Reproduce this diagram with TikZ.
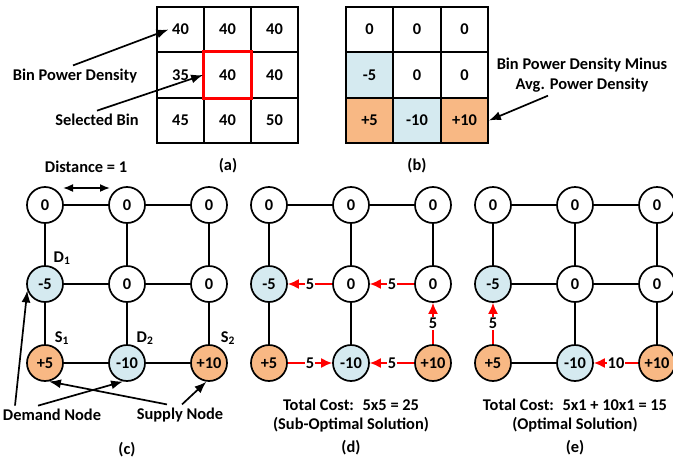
\documentclass[tikz,border=0pt]{standalone}
\usepackage{fontspec}
\setmainfont{Carlito}
\usetikzlibrary{arrows.meta,calc}
\definecolor{demcol}{RGB}{213,234,240}
\definecolor{supcol}{RGB}{248,184,132}
\tikzset{
	cellnode/.style={rectangle, draw=black, line width=1.8pt, minimum width=47pt, minimum height=45.5pt, inner sep=0pt},
	roundnode/.style={circle, draw=black, line width=1.7pt, minimum size=36pt, inner sep=0pt, fill=white},
	demnode/.style={roundnode, fill=demcol},
	supnode/.style={roundnode, fill=supcol},
	edge/.style={line width=1.7pt},
	flow/.style={-{Latex[length=11pt,width=10pt]}, red, line width=1.7pt},
	lbl/.style={fill=white, inner sep=1pt, text=black},
	pointer/.style={-{Latex[length=12pt,width=9pt]}, line width=1.7pt}
}
\begin{document}
\begin{tikzpicture}[x=1pt, y=-1pt, font=\bfseries\fontsize{16.4}{20}\selectfont]
	\useasboundingbox (0,0) rectangle (673,461);
	% (a) bin power density
	\node[cellnode] at (180.5,29.5) (a11) {40};
	\node[cellnode] at (227.5,29.5) (a12) {40};
	\node[cellnode] at (274.5,29.5) (a13) {40};
	\node[cellnode] at (180.5,75) (a21) {35};
	\node[cellnode] at (227.5,75) (a22) {40};
	\node[cellnode] at (274.5,75) (a23) {40};
	\node[cellnode] at (180.5,120.5) (a31) {45};
	\node[cellnode] at (227.5,120.5) (a32) {40};
	\node[cellnode] at (274.5,120.5) (a33) {50};
	\draw[red, line width=3pt] (a22.south west) rectangle (a22.north east);
	\node at (75,76) (lbpd) {Bin Power Density};
	\node at (97,120) (lsel) {Selected Bin};
	\node at (228,166) (capa) {(a)};
	\draw[pointer] ([xshift=-2pt]lbpd.north) -- ($(a11.center)+(-12,0)$);
	\draw[pointer] ([xshift=0pt]lsel.north) -- (a22.west);
	
	% (b) minus average
	\node[cellnode] at (369.5,29.5) (b11) {0};
	\node[cellnode] at (417,29.5) (b12) {0};
	\node[cellnode] at (464.5,29.5) (b13) {0};
	\node[cellnode, fill=demcol] at (369.5,75) (b21) {-5};
	\node[cellnode] at (417,75) (b22) {0};
	\node[cellnode] at (464.5,75) (b23) {0};
	\node[cellnode, fill=supcol] at (369.5,120.5) (b31) {+5};
	\node[cellnode, fill=demcol] at (417,120.5) (b32) {-10};
	\node[cellnode, fill=supcol] at (464.5,120.5) (b33) {+10};
	\node[align=center] at (582,75) (lmin) {Bin Power Density Minus\\Avg. Power Density};
	\node at (417,166) (capb) {(b)};
	\draw[pointer] ([xshift=-34pt]lmin.south) -- (b33.east);
	
	% (c) graph
	\node[roundnode] at (45,205) (c11) {0};
	\node[roundnode] at (127,205) (c12) {0};
	\node[roundnode] at (209,205) (c13) {0};
	\node[demnode] at (45,284) (c21) {-5};
	\node[roundnode] at (127,284) (c22) {0};
	\node[roundnode] at (209,284) (c23) {0};
	\node[supnode] at (45,363) (c31) {+5};
	\node[demnode] at (127,363) (c32) {-10};
	\node[supnode] at (209,363) (c33) {+10};
	\draw[edge] (c11) -- (c12); \draw[edge] (c12) -- (c13);
	\draw[edge] (c21) -- (c22); \draw[edge] (c22) -- (c23);
	\draw[edge] (c31) -- (c32); \draw[edge] (c32) -- (c33);
	\draw[edge] (c11) -- (c21); \draw[edge] (c21) -- (c31);
	\draw[edge] (c12) -- (c22); \draw[edge] (c22) -- (c32);
	\draw[edge] (c13) -- (c23); \draw[edge] (c23) -- (c33);
	\node at (86,167) (ldist) {Distance = 1};
	\coordinate (dl) at (63,188);
	\coordinate (dr) at (110,188);
	\draw[{Latex[length=10pt,width=8pt]}-{Latex[length=10pt,width=8pt]}, line width=1.7pt] (dl) -- (dr);
	\node at (62,258) (ld1) {D\textsubscript{1}};
	\node at (62,338) (ls1) {S\textsubscript{1}};
	\node at (145,338) (ld2) {D\textsubscript{2}};
	\node at (228,338) (ls2) {S\textsubscript{2}};
	\node at (52,415) (ldem) {Demand Node};
	\node at (180,415) (lsup) {Supply Node};
	\node at (127,450) (capc) {(c)};
	\draw[pointer] ([xshift=-37pt]ldem.north) -- (c21.200);
	\draw[pointer] ([xshift=-14pt]ldem.north) -- (c32.258);
	\draw[pointer] ([xshift=-13pt]lsup.north) -- (c31.282);
	\draw[pointer] ([xshift=2pt]lsup.north) -- (c33.262);
	
	% (d) sub-optimal
	\node[roundnode] at (269,205) (d11) {0};
	\node[roundnode] at (351,205) (d12) {0};
	\node[roundnode] at (433,205) (d13) {0};
	\node[demnode] at (269,284) (d21) {-5};
	\node[roundnode] at (351,284) (d22) {0};
	\node[roundnode] at (433,284) (d23) {0};
	\node[supnode] at (269,363) (d31) {+5};
	\node[demnode] at (351,363) (d32) {-10};
	\node[supnode] at (433,363) (d33) {+10};
	\draw[edge] (d11) -- (d12); \draw[edge] (d12) -- (d13);
	\draw[edge] (d11) -- (d21); \draw[edge] (d21) -- (d31);
	\draw[edge] (d12) -- (d22); \draw[edge] (d22) -- (d32);
	\draw[edge] (d13) -- (d23);
	\draw[flow] (d23) -- node[lbl] {5} (d22);
	\draw[flow] (d22) -- node[lbl] {5} (d21);
	\draw[flow] (d33) -- node[lbl] {5} (d23);
	\draw[flow] (d31) -- node[lbl] {5} (d32);
	\draw[flow] (d33) -- node[lbl] {5} (d32);
	\node at (351,405) (costd) {Total Cost:~ 5x5 = 25};
	\node at (351,425) (sold) {(Sub-Optimal Solution)};
	\node at (351,448) (capd) {(d)};
	
	% (e) optimal
	\node[roundnode] at (493,205) (e11) {0};
	\node[roundnode] at (575,205) (e12) {0};
	\node[roundnode] at (657,205) (e13) {0};
	\node[demnode] at (493,284) (e21) {-5};
	\node[roundnode] at (575,284) (e22) {0};
	\node[roundnode] at (657,284) (e23) {0};
	\node[supnode] at (493,363) (e31) {+5};
	\node[demnode] at (575,363) (e32) {-10};
	\node[supnode] at (657,363) (e33) {+10};
	\draw[edge] (e11) -- (e12); \draw[edge] (e12) -- (e13);
	\draw[edge] (e21) -- (e22); \draw[edge] (e22) -- (e23);
	\draw[edge] (e31) -- (e32);
	\draw[edge] (e11) -- (e21);
	\draw[edge] (e12) -- (e22); \draw[edge] (e22) -- (e32);
	\draw[edge] (e13) -- (e23); \draw[edge] (e23) -- (e33);
	\draw[flow] (e31) -- node[lbl] {5} (e21);
	\draw[flow] (e33) -- node[lbl] {10} (e32);
	\node at (575,405) (coste) {Total Cost:~ 5x1 + 10x1 = 15};
	\node at (575,425) (sole) {(Optimal Solution)};
	\node at (575,448) (cape) {(e)};
\end{tikzpicture}
\end{document}
